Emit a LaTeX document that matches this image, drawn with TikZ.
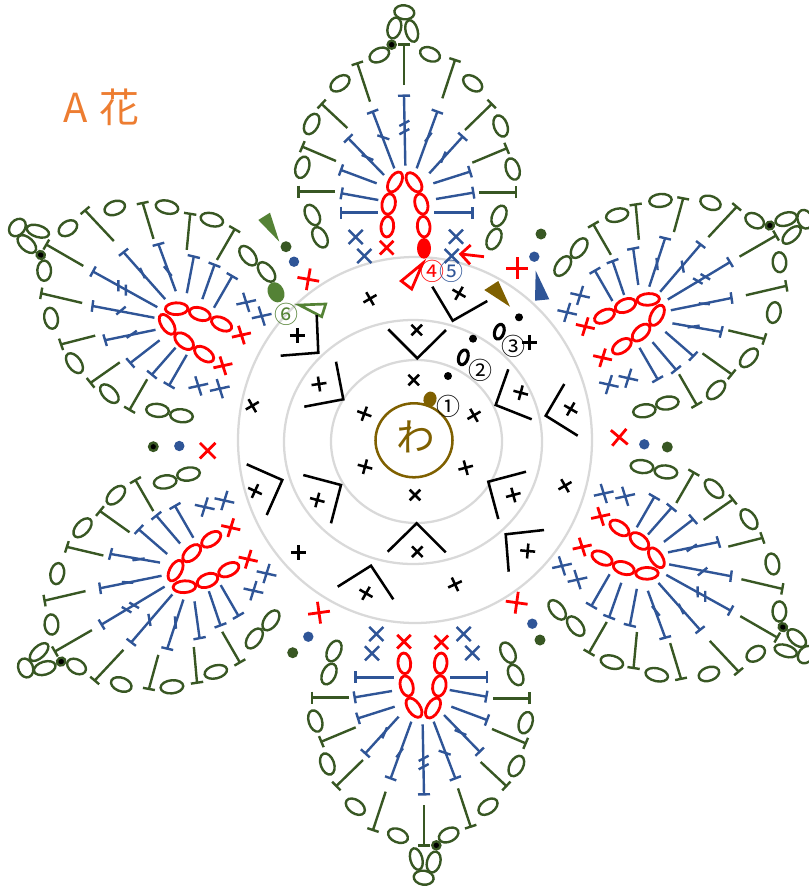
\documentclass[tikz,border=0pt]{standalone}
\usepackage{fontspec}
\usetikzlibrary{calc}
\newfontfamily\jpfont{Noto Sans CJK JP}
\definecolor{dg}{HTML}{385723}
\definecolor{mg}{HTML}{548235}
\definecolor{bl}{HTML}{2F5597}
\definecolor{rd}{HTML}{FF0000}
\definecolor{gy}{HTML}{D9D9D9}
\definecolor{br}{HTML}{7F6000}
\definecolor{og}{HTML}{ED7D31}
\tikzset{
 gs/.style={dg,line width=1.8pt},
 bs/.style={bl,line width=1.8pt},
 rs/.style={rd,line width=2.1pt},
 ks/.style={black,line width=1.9pt},
 ring/.style={gy,line width=1.7pt},
 lab/.style={inner sep=0pt,font=\jpfont},
 num/.style={inner sep=0pt,font=\jpfont\fontsize{18}{18}\selectfont}
}
% oval: style x y rx ry cw-angle
\newcommand\ov[6]{\draw[#1,shift={(#2,#3)},rotate=-#6] (0,0) ellipse [x radius=#4,y radius=#5];}
% T stitch
\newcommand\tee[5]{\draw[#1] (#2,#3)--(#4,#5);
 \draw[#1] ($(#4,#5)!4.5pt!90:(#2,#3)$)--($(#4,#5)!-4.5pt!90:(#2,#3)$);}
% cross: style x y half angle
\newcommand\xm[5]{\draw[#1,shift={(#2,#3)},rotate=-#5] (-#4,0)--(#4,0) (0,-#4)--(0,#4);}
% petal: angle dx dy xscale yscale extra
\newcommand\petal[6]{%
\begin{scope}[shift={(#2,#3)},shift={(415,440)},rotate=-#1,xscale=#4,yscale=#5,shift={(-415,-440)}]
\begin{scope}[shift={(280,0)},x=.25pt,y=-.25pt]
 \ov{gs}{373}{37}{30}{21}{8}
 \ov{gs}{343}{84}{32}{20}{-75}
 \ov{gs}{395}{93}{33}{18}{75}
 \fill[dg] (335,134) circle [radius=16];
 \fill[black] (335,134) circle [radius=8];
 \ov{gs}{298}{165}{31}{20}{-25}
 \ov{gs}{450}{163}{31}{20}{22}
 \ov{gs}{180}{250}{32}{20}{-35}
 \ov{gs}{95}{372}{33}{20}{-62}
 \ov{gs}{67}{502}{33}{20}{-72}
 \ov{gs}{97}{645}{33}{20}{62}
 \ov{gs}{120}{712}{33}{20}{62}
 \ov{gs}{578}{250}{32}{20}{35}
 \ov{gs}{662}{378}{33}{20}{70}
 \ov{gs}{698}{507}{33}{20}{72}
 \ov{gs}{657}{648}{33}{20}{-65}
 \ov{gs}{642}{717}{33}{20}{-65}
 \tee{gs}{372}{255}{372}{133}
 \tee{gs}{270}{305}{232}{190}
 \tee{gs}{202}{384}{125}{312}
 \tee{gs}{168}{483}{67}{440}
 \tee{gs}{165}{575}{55}{575}
 \tee{gs}{487}{295}{525}{180}
 \tee{gs}{555}{390}{635}{312}
 \tee{gs}{577}{488}{680}{445}
 \tee{gs}{597}{577}{708}{577}
 \tee{bs}{376}{497}{372}{287}
 \tee{bs}{343}{505}{278}{335}
 \tee{bs}{312}{525}{205}{415}
 \tee{bs}{290}{550}{183}{510}
 \tee{bs}{295}{600}{185}{580}
 \tee{bs}{293}{638}{183}{638}
 \tee{bs}{410}{505}{472}{335}
 \tee{bs}{448}{520}{548}{410}
 \tee{bs}{460}{550}{570}{515}
 \tee{bs}{468}{597}{580}{578}
 \tee{bs}{463}{638}{577}{638}
 \draw[bs] (358,378)--(388,362) (358,403)--(388,387)
   (292,406)--(328,418) (245,465)--(280,480)
   (435,425)--(455,398) (483,488)--(497,455);
 \xm{bs}{227}{711}{30}{45}
 \xm{bs}{253}{768}{30}{45}
 \xm{bs}{528}{710}{30}{45}
 \xm{bs}{515}{768}{30}{45}
 \xm{rs}{320}{743}{29}{45}
 \ov{rs}{345}{546}{33}{18}{-60}
 \ov{rs}{326}{612}{31}{20}{-80}
 \ov{rs}{322}{680}{31}{19}{-85}
 \ov{rs}{402}{547}{33}{18}{55}
 \ov{rs}{424}{612}{31}{19}{75}
 \ov{rs}{431}{680}{31}{19}{85}
 #6
\end{scope}
\end{scope}}
\begin{document}
\begin{tikzpicture}[x=.75pt,y=-.75pt]
\useasboundingbox (0,0) rectangle (809,890);
% rings
\draw[ring] (415,440) ellipse [x radius=177,y radius=183];
\draw[ring] (413,442) ellipse [x radius=129,y radius=122];
\draw[ring] (416.5,441.5) ellipse [x radius=85.5,y radius=81.5];
% petals
\petal{0}{0}{0}{1}{1}{\fill[rd] (432,745) ellipse [x radius=21,y radius=31];}
\petal{60}{11.3}{9.6}{.955}{1.036}{\xm{rs}{432}{745}{29}{45}}
\petal{120}{-2.8}{-1.1}{.957}{1.05}{\xm{rs}{432}{745}{29}{45}}
\petal{180}{-2}{10}{1}{1}{\xm{rs}{432}{745}{29}{45}}
\petal{240}{-5.6}{-5.45}{.965}{1.05}{\xm{rs}{432}{745}{29}{45}}
\petal{300}{-3.6}{3.15}{.96}{1.05}{\xm{rs}{432}{745}{29}{45}}
% joins
\foreach \x/\y in {294/261.7,534.3/256.7,644.3/444.3,179.3/446,308.3/636.7,532.3/623.7}
 \fill[bl] (\x,\y) circle [radius=5.2];
\foreach \x/\y in {286/246.7,541/234,667.3/447,292.7/652.7,540/640}
 \fill[dg] (\x,\y) circle [radius=5.5];
\fill[dg] (153.3,446.7) circle [radius=5.5];
\fill[black] (153.3,446.7) circle [radius=2.6];
\xm{rs}{308.3}{279.3}{11}{10}
\xm{rs}{517.3}{268.3}{11}{0}
\xm{rs}{619.3}{437.3}{11}{40}
\xm{rs}{207.7}{450.7}{11}{45}
\xm{rs}{319}{612.7}{11}{-8}
\xm{rs}{516.7}{602.7}{11}{8}
% start marks
\fill[br] (484.3,290)--(498.3,281)--(510,306.7)--cycle;
\fill[bl] (535.7,270.7)--(549.3,299.3)--(535,300.7)--cycle;
\fill[mg] (258.3,220)--(270,212.7)--(279.3,241.7)--cycle;
\draw[rs] (422.7,263.3)--(411.7,289)--(401.3,281)--cycle;
\draw[mg,line width=2pt] (299.3,305)--(325.7,304)--(321.7,316.7)--cycle;
\draw[rs] (484,256.7)--(460.7,254) (470.7,245)--(460.7,254)--(470,264.3);
\fill[mg,rotate around={25:(276,292.3)}] (276,292.3) ellipse [x radius=8,y radius=10.5];
% centre
\draw[br,line width=1.9pt] (414,440.3) ellipse [x radius=38.5,y radius=37];
\node[lab,text=br,font=\jpfont\fontsize{29}{29}\selectfont] (wa) at (415.5,437) {わ};
\fill[br,rotate around={-15:(430,399.3)}] (430,399.3) ellipse [x radius=6.5,y radius=7.8];
\fill[black] (448,376) circle [radius=4];
\fill[black] (473,338.7) circle [radius=4];
\fill[black] (519,317.3) circle [radius=4];
\draw[black,line width=2.3pt,rotate around={-18:(463.3,357.3)}] (463.3,357.3) ellipse [x radius=4.6,y radius=7.6];
\draw[black,line width=2.3pt,rotate around={-18:(499.3,331.7)}] (499.3,331.7) ellipse [x radius=4.6,y radius=7.6];
% ring 1
\xm{ks}{413.7}{380}{7.5}{45}
\xm{ks}{364.3}{413.7}{7.5}{20}
\xm{ks}{474}{415.3}{7.5}{-30}
\xm{ks}{365}{466.7}{7.5}{15}
\xm{ks}{465.7}{467.7}{7.5}{-15}
\xm{ks}{415}{495}{7.5}{45}
% ring 2
\draw[ks] (388.3,329.3)--(417.3,358.3)--(446,330);
\xm{ks}{416.7}{330}{7.5}{45}
\draw[ks] (508.3,369.3)--(495.7,405)--(531.7,419.3);
\xm{ks}{520.7}{392.7}{7.5}{15}
\draw[ks] (336,361.7)--(343.3,399.3)--(304.3,406.7);
\xm{ks}{319}{384}{7.5}{-8}
\draw[ks] (303.3,475)--(341,485)--(331,523.3);
\xm{ks}{317.3}{500}{7.5}{15}
\draw[ks] (526,471.7)--(488.3,481.7)--(498.3,519);
\xm{ks}{513.3}{495}{7.5}{-15}
\draw[ks] (387.7,551.7)--(416.7,523.3)--(445.7,552.3);
\xm{ks}{417.3}{551.7}{7.5}{45}
% ring 3
\draw[ks] (432.3,286.7)--(452.7,320.7)--(487.3,301);
\xm{ks}{459}{293.3}{7.5}{30}
\draw[ks] (316.7,315)--(318.3,352.7)--(280.7,355.7);
\xm{ks}{297.3}{335.3}{7.5}{0}
\xm{ks}{370}{298.7}{7.5}{60}
\xm{ks}{252.3}{405.7}{7.5}{60}
\xm{ks}{529.3}{342.3}{7.5}{0}
\draw[ks] (564.3,384)--(545.7,415.7)--(577.7,435.7);
\xm{ks}{570.7}{409}{7.5}{30}
\xm{ks}{565}{485.7}{7.5}{60}
\draw[ks] (246.7,464.3)--(282.3,480)--(266.7,515);
\xm{ks}{255}{491}{7.5}{25}
\xm{ks}{298.3}{552.7}{7.5}{0}
\draw[ks] (337.7,586.7)--(371,565.7)--(393.3,599.3);
\xm{ks}{366}{593.3}{7.5}{30}
\xm{ks}{455}{584.3}{7.5}{65}
\draw[ks] (508.7,571.7)--(505.7,534.3)--(544,530);
\xm{ks}{527.7}{551}{7.5}{5}
% labels
\node[num] (n1) at (448.3,406.7) {①};
\node[num] (n2) at (480.7,370) {②};
\node[num] (n3) at (513.3,346) {③};
\node[num,text=rd] (n4) at (432.7,271.7) {④};
\node[num,text=bl] (n5) at (451.7,271.7) {⑤};
\node[num,text=mg] (n6) at (286.7,314.3) {⑥};
\node[lab,text=og,font=\jpfont\fontsize{30}{30}\selectfont] (title) at (101.5,107) {A\hspace{2.5pt} 花};
\end{tikzpicture}
\end{document}
